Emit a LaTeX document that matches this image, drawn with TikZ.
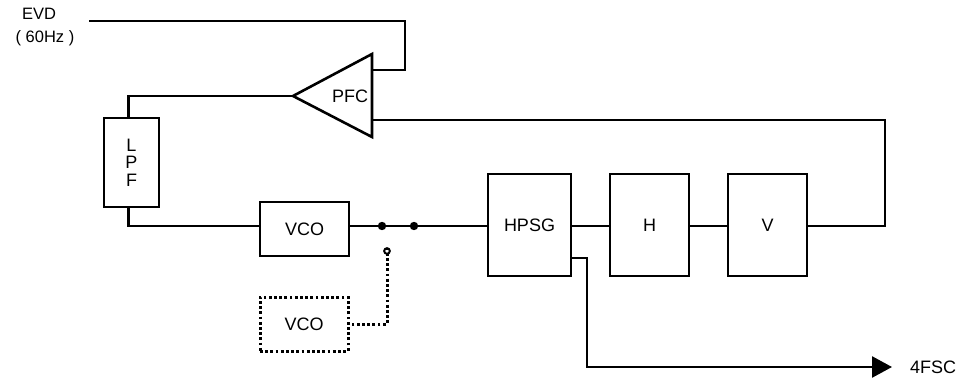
\documentclass[tikz,border=0pt]{standalone}
\usepackage{fontspec}
\setmainfont{Liberation Sans}
\usetikzlibrary{arrows.meta}
\begin{document}
\begin{tikzpicture}[x=1pt,y=-1pt,
  wire/.style={line width=2.6pt,line cap=rect},
  blk/.style={draw,line width=2.6pt,inner sep=0pt,font=\fontsize{18}{17.5}\selectfont},
  dotline/.style={line width=3pt,dash pattern=on 2.8pt off 2.4pt},
  lbl/.style={inner sep=0pt,font=\fontsize{18}{17.5}\selectfont},
  small/.style={inner sep=0pt,font=\fontsize{16.5}{18}\selectfont}]
\useasboundingbox (0,0) rectangle (966,385);
% labels
\node[small] (evd) at (39,14) {EVD};
\node[small] (hz) at (45,38) {( 60Hz )};
% blocks
\node[blk,minimum width=55pt,minimum height=89pt,align=center] (lpf) at (131.5,162.5) {L\\P\\F};
\node[blk,minimum width=89pt,minimum height=54pt] (vco) at (304.5,229) {VCO};
\node[blk,dotline,minimum width=88pt,minimum height=54pt] (vcob) at (304,324) {VCO};
\node[blk,minimum width=83pt,minimum height=102pt] (hpsg) at (529.5,225) {HPSG};
\node[blk,minimum width=79pt,minimum height=102pt] (h) at (649.5,225) {\raisebox{-4pt}{H}};
\node[blk,minimum width=79pt,minimum height=102pt] (v) at (767.5,225) {V};
% PFC triangle
\coordinate (apex) at (293,96);
\coordinate (btop) at (372,54);
\coordinate (bbot) at (372,137);
\draw[line width=2.6pt,line join=miter] (apex) -- (btop) -- (bbot) -- cycle;
\node[lbl] (pfc) at (350,96) {PFC};
\coordinate (in1) at (372,70);
\coordinate (in2) at (372,120);
% switch
\coordinate (d1) at (382,226);
\coordinate (d2) at (414,226);
\coordinate (sw) at (387,251);
% connectors
\draw[wire] (90,21) coordinate (evdin) -- (405,21) -- (405,70) -- (in1);
\draw[wire] (apex) -| ([xshift=-3pt]lpf.north);
\draw[wire] ([xshift=-3pt]lpf.south) |- (vco.west |- d1);
\draw[wire] (vco.east |- d1) -- (hpsg.west |- d1);
\fill (d1) circle (4.2pt);
\fill (d2) circle (4.2pt);
\draw[line width=2pt,fill=white] (sw) circle (2.8pt);
\draw[dotline] ([yshift=3.5pt]sw) |- (vcob.east);
\draw[wire] (hpsg.east |- d1) -- (h.west |- d1);
\draw[wire] (h.east |- d1) -- (v.west |- d1);
\coordinate (ret) at (885,120);
\draw[wire] (v.east |- d1) -| (ret) -- (in2);
\coordinate (out) at (892,367);
\node[lbl,anchor=west] (fsc) at (910,367) {4FSC};
\draw[line width=2.6pt,-{Triangle[length=20pt,width=21pt]}] (hpsg.east |- 0,258) -- (587,258) |- (out);
\end{tikzpicture}
\end{document}
